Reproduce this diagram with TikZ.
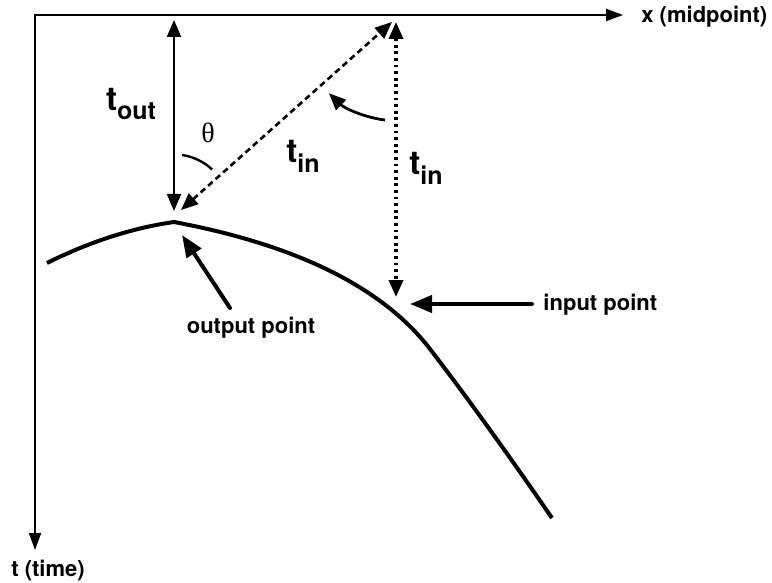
\documentclass[tikz,border=0pt]{standalone}
\usepackage{fontspec}
\setmainfont{TeX Gyre Heros}
\newfontfamily\thetafont{Liberation Serif}
\usetikzlibrary{arrows.meta}
\newcommand{\tsub}[1]{t\raisebox{-0.3em}{\fontsize{12.5}{14}\selectfont #1}}

\begin{document}
\begin{tikzpicture}[
        x=0.5pt, y=-0.5pt,
        font=\bfseries\fontsize{11}{13}\selectfont,
        axisline/.style={line width=1pt, {Triangle[length=8.5pt,width=6pt]}-{Triangle[length=8.5pt,width=6pt]}},
        dimsolid/.style={line width=1pt, {Triangle[length=8.5pt,width=7pt]}-{Triangle[length=8.5pt,width=7pt]}},
        dimdashed/.style={line width=1.3pt, dash pattern=on 3pt off 2pt, {Triangle[length=8.5pt,width=7pt]}-{Triangle[length=8.5pt,width=7pt]}},
        dimdotted/.style={line width=1.7pt, dash pattern=on 1.4pt off 1.9pt, {Triangle[length=8.5pt,width=7pt]}-{Triangle[length=8.5pt,width=7pt]}},
        pointer/.style={line width=2pt, line cap=round, -{Triangle[length=11pt,width=8.5pt]}},
        reflector/.style={line width=2pt, line join=miter},
        tlabel/.style={font=\bfseries\fontsize{16.5}{18}\selectfont, inner sep=0pt},
        txt/.style={inner sep=0pt}]

    \useasboundingbox (0,0) rectangle (772,583);

    % ejes
    \coordinate (O)    at (35,15);
    \coordinate (xend) at (623,15);
    \coordinate (tend) at (35,550);
    \draw[axisline] (xend) -- (O) -- (tend);
    \node[txt, anchor=west] (xlbl) at (641,17) {x (midpoint)};
    \node[txt] (tlbl) at (48,571) {t (time)};

    % reflector
    \coordinate (rleft)  at (47,263);
    \coordinate (apex)   at (174,222);
    \coordinate (bend)   at (430,349);
    \coordinate (rright) at (552,518);
    \draw[reflector] (rleft) .. controls (89,242) and (132,228) .. (apex)
        .. controls (259,238) and (370,271) .. (bend)
        .. controls (470,401) and (512,460) .. (rright);

    % trayectorias
    \coordinate (outtop) at (174,20);
    \coordinate (outbot) at (174,211);
    \coordinate (inbot)  at (181,210);
    \coordinate (intop)  at (392,22);
    \coordinate (vtop)   at (396,22);
    \coordinate (vbot)   at (396,297);
    \draw[dimsolid]  (outtop) -- (outbot);
    \draw[dimdashed] (inbot) -- (intop);
    \draw[dimdotted] (vtop) -- (vbot);

    \node[tlabel] (tout) at (131,104) {\tsub{out}};
    \node[tlabel] (tinA) at (303,156) {\tsub{in}};
    \node[tlabel] (tinB) at (426,168) {\tsub{in}};

    % angulos
    \draw[line width=1.2pt] (182,155) arc[start angle=-81.7, end angle=-47, radius=56];
    \node[inner sep=0pt, font=\thetafont\fontsize{14}{16}\selectfont] (theta) at (208,133) {θ};
    \draw[line width=1.4pt, -{Triangle[length=8.5pt,width=7pt]}] (385,120) arc[start angle=97, end angle=134, radius=98];

    % puntos
    \node[txt] (outlbl) at (251,328) {output point};
    \coordinate (outtail) at (230,308);
    \coordinate (outtip)  at (182,235);
    \draw[pointer] (outtail) -- (outtip);

    \node[txt, anchor=west] (inlbl) at (543,305) {input point};
    \coordinate (intail) at (532,304);
    \coordinate (intip)  at (410,304);
    \draw[pointer] (intail) -- (intip);
\end{tikzpicture}
\end{document}
